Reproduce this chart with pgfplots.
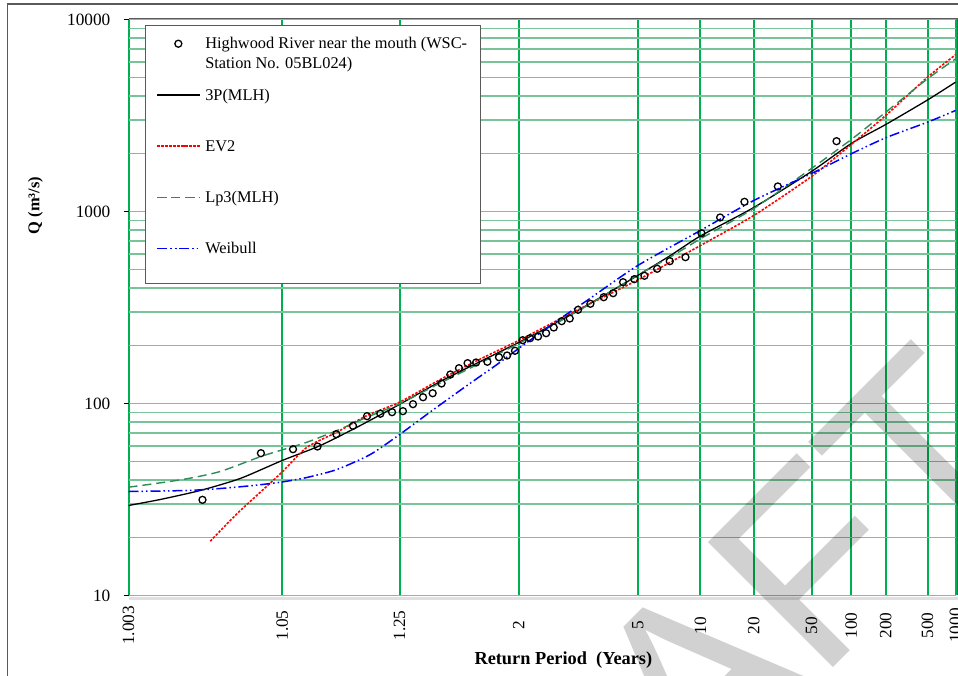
\documentclass[border=0pt]{standalone}
\usepackage{fontspec}
\setmainfont{Liberation Serif}
\newfontfamily\wmfont{Liberation Sans}
\usepackage{pgfplots}
\pgfplotsset{compat=1.18}
\definecolor{vgrid}{RGB}{0,176,80}
\definecolor{hgrid}{RGB}{120,196,152}
\definecolor{lpthree}{RGB}{46,139,87}
\definecolor{framec}{RGB}{90,90,90}
\pgfplotsset{legend image code/.code={\draw[mark repeat=2,mark phase=2,#1] plot coordinates {(0bp,0bp) (21.15bp,0bp) (42.3bp,0bp)};}}
\newcommand\Lstrut{\rule[-4bp]{0pt}{16bp}}
\begin{document}
\begin{tikzpicture}[x=1bp,y=1bp]
\useasboundingbox (0,0) rectangle (958,676);
\draw[framec, line width=1.3bp] (7.5,-10) -- (7.5,672) -- (970,672);
\begin{axis}[
  name=ax, at={(128.5bp,80.5bp)}, anchor=south west, scale only axis,
  width=827bp, height=576bp,
  xmin=-2.758, xmax=3.088, ymode=log, ymin=10, ymax=10000,
  xtick={-2.758,-1.671,-0.842,0,0.842,1.285,1.662,2.070,2.351,2.595,2.890,3.088},
  xticklabels={1.003,1.05,1.25,2,5,10,20,50,100,200,500,1000},
  ytick={10,100,1000,10000},
  yticklabels={10,100,1000,10000},
  xmajorgrids=true, ymajorgrids=true, yminorgrids=true,
  major x grid style={draw=vgrid, line width=2bp},
  major y grid style={draw=hgrid, line width=1.5bp},
  minor y grid style={draw=hgrid, line width=1.5bp},
  axis line style={draw=none},
  tick align=outside, ytick pos=left, xtick pos=bottom,
  major tick length=5bp, minor tick length=0pt,
  xtick style={draw=none},
  ytick style={black, line width=0.8bp},
  ticklabel style={font=\fontsize{17.3}{20}\selectfont},
  yticklabel style={anchor=east, inner sep=0pt, xshift=-13bp},
  xticklabel style={anchor=center, inner sep=0pt, yshift=-25bp, rotate=90},
  every axis x label/.style={at={(rel axis cs:0.5258,0)}, yshift=-65bp, anchor=center, font=\bfseries\fontsize{18.4}{22}\selectfont},
  every axis y label/.style={at={(rel axis cs:0,0.677)}, xshift=-93bp, rotate=90, anchor=center, font=\bfseries\fontsize{16.5}{20}\selectfont},
  xlabel={Return Period\ \ (Years)},
  ylabel={Q (m³/s)},
  legend cell align=left,
  legend style={at={(rel axis cs:0,1)}, anchor=north west, xshift=15.7bp, yshift=-6bp,
    draw=none, fill=none, inner xsep=12bp, inner ysep=11.3bp,
    row sep=37.75bp, font=\fontsize{16.4}{19.3}\selectfont,
    nodes={inner sep=0pt},
    /tikz/every odd column/.append style={column sep=5bp}},
]
\addplot[only marks, mark=o, mark size=3.5bp, draw=black, line width=1.3bp] coordinates {
(-2.235,31.5) (-1.822,55.1) (-1.595,57.8) (-1.422,59.7) (-1.289,69.2) (-1.171,76.5)
(-1.072,85.9) (-0.978,88.4) (-0.895,90.1) (-0.818,91.2) (-0.747,99.2) (-0.676,107.8)
(-0.608,113.1) (-0.545,127.1) (-0.483,141.6) (-0.422,152.7) (-0.361,162.2) (-0.301,163.5)
(-0.221,164.9) (-0.139,174.2) (-0.082,177.8) (-0.026,188.2) (0.028,213.6) (0.081,218.8)
(0.137,223.3) (0.194,232.3) (0.248,248.8) (0.304,268.3) (0.361,277.1) (0.420,307.6)
(0.507,330.6) (0.601,357.8) (0.668,375.4) (0.738,428.3) (0.818,444.0) (0.889,462.5)
(0.979,503.0) (1.068,551.0) (1.179,578.1) (1.292,770.9) (1.424,930.6) (1.596,1123)
(1.832,1350) (2.247,2323)};
\addlegendentry{\raisebox{0pt}[12bp][4bp]{\begin{tabular}[t]{@{}l@{}}Highwood River near the mouth (WSC-\\Station No. 05BL024)\end{tabular}}}
\addplot[draw=black, line width=1.3bp, smooth, tension=0.4] coordinates {
(-2.758,29.43) (-2.534,31.62) (-2.251,35.23) (-1.968,40.69) (-1.671,50.5) (-1.402,60.4)
(-1.1195,76.8) (-0.8437,98.8) (-0.5537,130.2) (-0.2709,165.5) (0,207.8) (0.2949,270.6)
(0.5778,356.6) (0.8416,464.2) (1.0728,590.0) (1.285,745.6) (1.662,1049) (2.070,1616)
(2.351,2260) (2.595,2839) (2.890,3808) (3.088,4714)};
\addlegendentry{\Lstrut 3P(MLH)}
\addplot[draw=red, line width=1.6bp, dash pattern=on 2.5bp off 1.5bp, smooth, tension=0.4] coordinates {
(-2.180,19.18) (-1.9915,26.65) (-1.8267,34.51) (-1.6733,43.87) (-1.4965,59.2) (-1.2843,70.9)
(-1.0721,86.6) (-0.8416,101.6) (-0.5537,133.4) (-0.2709,170.5) (0,212.9) (0.4364,312.5)
(0.8416,439.7) (1.285,665.2) (1.662,953.3) (2.070,1522) (2.351,2234) (2.595,3162)
(2.890,5006) (3.088,6548)};
\addlegendentry{\Lstrut EV2}
\addplot[draw=lpthree, line width=1.4bp, dash pattern=on 9bp off 5bp, smooth, tension=0.4] coordinates {
(-2.758,36.65) (-2.581,38.17) (-2.345,40.54) (-2.1096,44.24) (-1.822,52.97) (-1.6733,57.27)
(-1.4965,62.86) (-1.2843,72.34) (-1.0721,84.85) (-0.8416,99.6) (-0.5537,127.9) (-0.2709,162.5)
(0,205.4) (0.2949,269.0) (0.5778,354.5) (0.8416,467.0) (1.0728,579.4) (1.285,720.9)
(1.662,1036.6) (2.070,1675) (2.351,2371) (2.595,3290) (2.890,4910) (3.088,6228)};
\addlegendentry{\Lstrut Lp3(MLH)}
\addplot[draw=blue, line width=1.5bp, dash pattern=on 10bp off 3bp on 1.5bp off 3bp on 1.5bp off 3bp, smooth, tension=0.4] coordinates {
(-2.758,34.8) (-2.345,35.23) (-2.1096,36.08) (-1.874,37.41) (-1.6733,39.01) (-1.4965,41.18)
(-1.2843,45.32) (-1.0488,54.25) (-0.8416,68.94) (-0.6011,93.06) (-0.3649,124.1) (-0.1528,159.7)
(0,193.4) (0.2949,277.1) (0.4837,344.0) (0.8416,523) (1.285,796.3) (1.662,1141)
(2.070,1577) (2.351,1998) (2.595,2421) (2.890,2918) (3.088,3357)};
\addlegendentry{\Lstrut Weibull}
\draw[framec, line width=1bp, fill=white] (rel axis cs:0.0208,0.9892) rectangle (rel axis cs:0.4254,0.5420);
\end{axis}
\draw[framec, line width=1bp] ([yshift=0.5bp]ax.north west) -- ([xshift=1.5bp,yshift=0.5bp]ax.north east) -- ([xshift=1.5bp]ax.south east);
\draw[black!12, line width=2.5bp] ([yshift=-3bp]ax.south west) -- ([xshift=3bp,yshift=-3bp]ax.south east);
\node[rotate=45, anchor=base east, inner sep=0pt, text=black, opacity=0.18, font=\wmfont\fontsize{258}{258}\selectfont] at (1040.9,215.7) {DRAFT};
\end{tikzpicture}
\end{document}
